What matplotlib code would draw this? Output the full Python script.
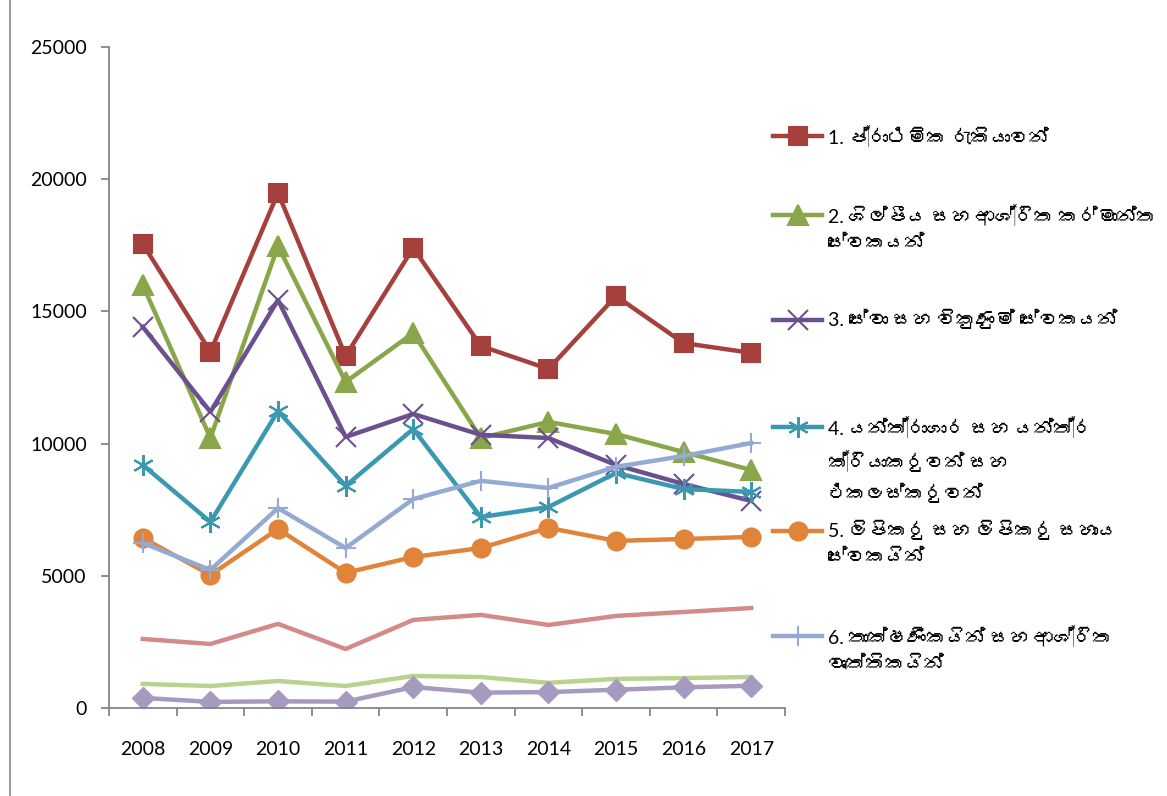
import matplotlib
matplotlib.use("Agg")
import matplotlib.pyplot as plt
from matplotlib import font_manager
from matplotlib.ft2font import FT2Font
from matplotlib.lines import Line2D
from matplotlib.patches import Rectangle

years = ["2008", "2009", "2010", "2011", "2012", "2013", "2014", "2015", "2016", "2017"]

elementary = [17550, 13470, 19480, 13310, 17400, 13690, 12820, 15580, 13800, 13430]
craft = [16000, 10210, 17470, 12330, 14180, 10210, 10820, 10360, 9680, 9000]
services = [14410, 11200, 15430, 10250, 11120, 10330, 10210, 9190, 8470, 7830]
machine_ops = [9190, 7035, 11230, 8400, 10550, 7220, 7600, 8890, 8280, 8170]
clerks = [6430, 5030, 6770, 5110, 5710, 6050, 6810, 6320, 6390, 6470]
technicians = [6240, 5220, 7560, 6050, 7900, 8590, 8320, 9120, 9530, 10020]
extra_a = [2610, 2420, 3180, 2230, 3330, 3520, 3140, 3480, 3630, 3780]
extra_b = [910, 830, 1020, 830, 1210, 1170, 950, 1100, 1130, 1170]
extra_c = [380, 230, 250, 240, 790, 580, 600, 690, 780, 840]

labels = [
    "1. ප්‍රාථමික රැකියාවන්",
    "2. ශිල්පීය සහ ආශ්‍රිත කර්මාන්ත\nසේවකයන්",
    "3. සේවා සහ විකුණුම් සේවකයන්",
    "4. යන්ත්‍රාගාර සහ යන්ත්‍ර\nක්‍රියාකරුවන් සහ\nඑකලස්කරුවන්",
    "5. ලිපිකරු සහ ලිපිකරු සහාය\nසේවකයින්",
    "6. තාක්ෂණිකයින් සහ ආශ්‍රිත\nවෘත්තිකයින්",
]

# find an installed font that has Sinhala glyphs, if any
sinhala_fonts = []
for f in font_manager.fontManager.ttflist:
    try:
        if 0x0DC3 in FT2Font(f.fname).get_charmap():
            if f.name not in sinhala_fonts:
                sinhala_fonts.append(f.name)
    except Exception:
        pass
plt.rcParams["font.family"] = ["Lato"] + sinhala_fonts + ["DejaVu Sans"]

styles = [
    (elementary, "#A5403D", "s", 13, "#A5403D"),
    (craft, "#8AA64A", "^", 14, "#8AA64A"),
    (services, "#6B4F8F", "x", 14, "#6B4F8F"),
    (machine_ops, "#3A99B1", (6, 2, 0), 15, "#3A99B1"),
    (clerks, "#E0843A", "o", 13, "#E0843A"),
    (technicians, "#94AAD3", "+", 15, "#94AAD3"),
]

fig = plt.figure(figsize=(11.67, 7.96), dpi=100)
ax = fig.add_axes([0.0934, 0.1106, 0.5793, 0.8304])

x = list(range(len(years)))
for vals, col, mk, ms, ec in styles:
    ax.plot(x, vals, color=col, lw=3.2, marker=mk, markersize=ms,
            markeredgecolor=ec, markeredgewidth=1.5, zorder=3)

ax.plot(x, extra_a, color="#D38B89", lw=3.2, zorder=2)
ax.plot(x, extra_b, color="#B9D290", lw=3.2, zorder=2)
ax.plot(x, extra_c, color="#A69AC0", lw=3.2, marker="D", markersize=11,
        markeredgecolor="#A69AC0", zorder=2)

ax.set_xlim(-0.5, 9.5)
ax.set_ylim(0, 25000)
ax.set_yticks(range(0, 25001, 5000))
ax.set_xticks(x)
ax.set_xticklabels(years)
ax.set_xticks([i - 0.5 for i in range(11)], minor=True)
ax.tick_params(axis="x", which="major", length=0, labelsize=14, pad=24)
ax.tick_params(axis="x", which="minor", length=6, color="#868686", width=1.3)
ax.tick_params(axis="y", length=6, color="#868686", width=1.3, labelsize=14, pad=10)
for s in ["top", "right"]:
    ax.spines[s].set_visible(False)
for s in ["left", "bottom"]:
    ax.spines[s].set_color("#868686")
    ax.spines[s].set_linewidth(1.3)

# legend, drawn entry by entry so the handle sits on the first text line
entry_y = [136, 215, 320, 427, 531, 636]
H = 796.0
W = 1167.0
for (vals, col, mk, ms, ec), lab, yy in zip(styles, labels, entry_y):
    fy = 1 - yy / H
    fig.add_artist(Line2D([773 / W, 822 / W], [fy, fy], color=col, lw=3.2,
                          transform=fig.transFigure))
    fig.add_artist(Line2D([797.5 / W], [fy], color=col, marker=mk, markersize=ms,
                          markeredgecolor=ec, markeredgewidth=1.5,
                          transform=fig.transFigure))
    fig.text(828 / W, 1 - (yy - 11) / H, lab, fontsize=14, va="top", ha="left",
             linespacing=1.62, transform=fig.transFigure)

fig.add_artist(Rectangle((10 / W, -0.01), 1.5, 1.2, transform=fig.transFigure,
                         fill=False, edgecolor="#868686", lw=1.2))

fig.savefig("out.png", dpi=100)
